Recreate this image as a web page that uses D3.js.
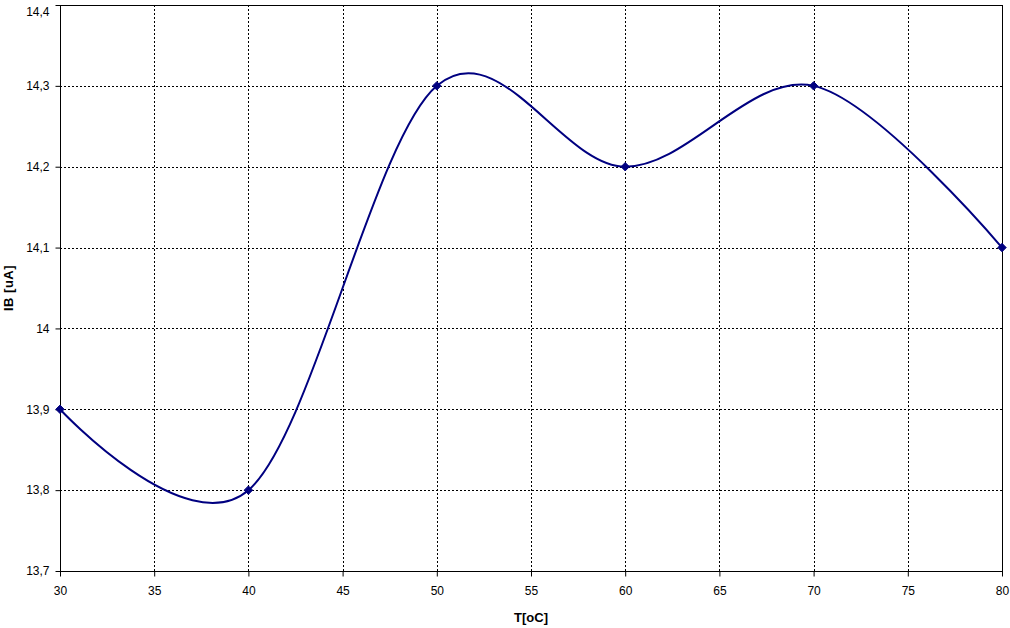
<!DOCTYPE html>
<html><head><meta charset="utf-8">
<script src="https://cdn.jsdelivr.net/npm/d3@7"></script>
<style>body{margin:0;background:#fff}text{font-family:"Liberation Sans",Arial,sans-serif}</style>
</head><body>
<svg id="c" width="1010" height="628"></svg>
<script>
const temps = [30, 40, 50, 60, 70, 80];
const ibValues = [13.9, 13.8, 14.3, 14.2, 14.3, 14.1];
const xTicks = [30, 35, 40, 45, 50, 55, 60, 65, 70, 75, 80];
const yTicks = [13.7, 13.8, 13.9, 14.0, 14.1, 14.2, 14.3, 14.4];

const svg = d3.select("#c");
const L = 60, R = 1002, T = 5, B = 571;
const x = d3.scaleLinear().domain([30, 80]).range([L, R]);
const y = d3.scaleLinear().domain([13.7, 14.4]).range([B, T]);
const fmt = v => (Math.round(v * 10) / 10).toString().replace(".", ",");

// gridlines
svg.append("g").selectAll("line.v").data(xTicks.slice(1, -1)).join("line")
  .attr("x1", d => Math.round(x(d)) + 0.5).attr("x2", d => Math.round(x(d)) + 0.5)
  .attr("y1", T).attr("y2", B).attr("stroke", "#000").attr("stroke-dasharray", "2,2");
svg.append("g").selectAll("line.h").data(yTicks.slice(1, -1)).join("line")
  .attr("y1", d => Math.round(y(d)) + 0.5).attr("y2", d => Math.round(y(d)) + 0.5)
  .attr("x1", L).attr("x2", R).attr("stroke", "#000").attr("stroke-dasharray", "2,2");

// frame
svg.append("rect").attr("x", L + 0.5).attr("y", T + 0.5).attr("width", R - L).attr("height", B - T)
  .attr("fill", "none").attr("stroke", "#000");

// axes
const xAxis = svg.append("g").attr("transform", `translate(0,${B + 0.5})`)
  .call(d3.axisBottom(x).tickValues(xTicks).tickSize(5).tickPadding(10).tickFormat(d => d));
const yAxis = svg.append("g").attr("transform", `translate(${L + 0.5},0)`)
  .call(d3.axisLeft(y).tickValues(yTicks).tickSize(5).tickPadding(6).tickFormat(fmt));
[xAxis, yAxis].forEach(a => {
  a.select(".domain").remove();
  a.selectAll("text").attr("font-size", 12).attr("font-family", "Liberation Sans, Arial, sans-serif").attr("fill", "#000");
  a.selectAll("line").attr("stroke", "#000");
});
// keep the top label inside the picture
yAxis.selectAll(".tick text").filter(d => d === 14.4).attr("dy", "0.85em");

// line
const pts = temps.map((t, i) => [t, ibValues[i]]);
svg.append("path").datum(pts)
  .attr("d", d3.line().x(d => x(d[0])).y(d => y(d[1])).curve(d3.curveCardinal.tension(0)))
  .attr("fill", "none").attr("stroke", "#000080").attr("stroke-width", 2);

// markers
svg.append("g").selectAll("path").data(pts).join("path")
  .attr("transform", d => `translate(${x(d[0])},${y(d[1])})`)
  .attr("d", d3.symbol(d3.symbolDiamond2, 45))
  .attr("fill", "#000080").attr("stroke", "#000080");

// titles
svg.append("text").attr("x", (L + R) / 2).attr("y", 622).attr("text-anchor", "middle")
  .attr("font-size", 13).attr("font-weight", "bold").text("T[oC]");
svg.append("text").attr("transform", `translate(13,${(T + B) / 2}) rotate(-90)`).attr("text-anchor", "middle")
  .attr("font-size", 13).attr("font-weight", "bold").attr("letter-spacing", 0.5).text("IB [uA]");
</script>
</body></html>
